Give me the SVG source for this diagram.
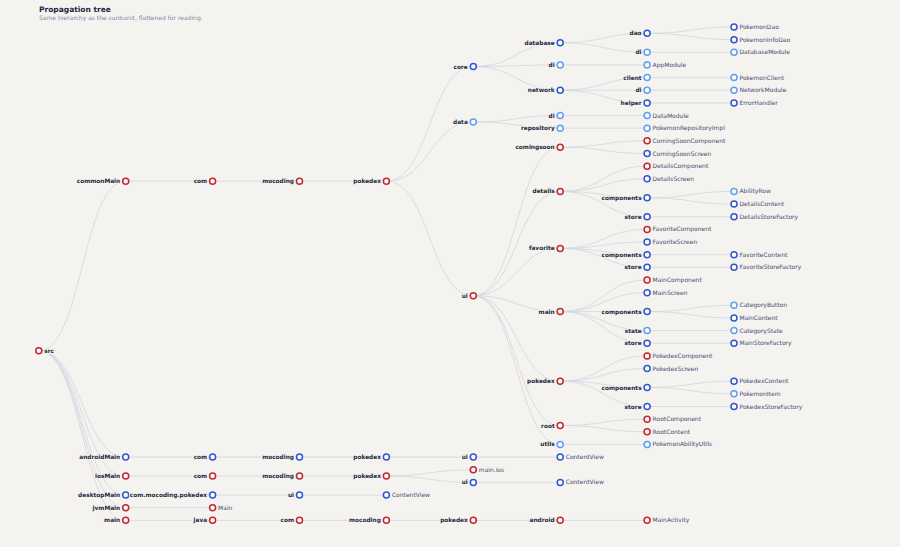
<svg xmlns="http://www.w3.org/2000/svg" width="900" height="547" viewBox="0 0 900 547">
<style>
.bg{fill:#f4f3ef}
.title{font-family:"DejaVu Sans",Verdana,sans-serif;font-size:7.5px;font-weight:bold;fill:#1e2640}
.sub{font-family:"DejaVu Sans",Verdana,sans-serif;font-size:6px;fill:#7d8aa2}
#links path{fill:none;stroke:#cfd6e0;stroke-width:0.8}
.node circle{fill:#ffffff;stroke-width:1.5}
.r circle{stroke:#c4262e}
.b circle{stroke:#2f55d4}
.l circle{stroke:#5d9ff2}
.node text{font-family:"DejaVu Sans",Verdana,sans-serif;font-size:6px;stroke:#f4f3ef;stroke-width:2;paint-order:stroke;stroke-linejoin:round}
.i text{font-weight:bold;font-size:5.8px;fill:#222840;text-anchor:end}
.f text{fill:#464d72}
.rt text{font-weight:bold;font-size:5.8px;fill:#222840}
</style>
<rect class="bg" x="0" y="0" width="900" height="547"/>
<text class="title" x="39" y="11.5">Propagation tree</text>
<text class="sub" x="39" y="19.5">Same hierarchy as the sunburst, flattened for reading.</text>
<g id="links">
<path d="M38.8,350.8C82.25,350.8 82.25,181.2 125.7,181.2"/>
<path d="M38.8,350.8C82.25,350.8 82.25,457.1 125.7,457.1"/>
<path d="M38.8,350.8C82.25,350.8 82.25,476.1 125.7,476.1"/>
<path d="M38.8,350.8C82.25,350.8 82.25,495.05 125.7,495.05"/>
<path d="M38.8,350.8C82.25,350.8 82.25,507.7 125.7,507.7"/>
<path d="M38.8,350.8C82.25,350.8 82.25,520.35 125.7,520.35"/>
<path d="M125.7,181.2H386.4"/>
<path d="M386.4,181.2C429.85,181.2 429.85,66.5 473.3,66.5"/>
<path d="M386.4,181.2C429.85,181.2 429.85,121.9 473.3,121.9"/>
<path d="M386.4,181.2C429.85,181.2 429.85,295.8 473.3,295.8"/>
<path d="M473.3,66.5C516.75,66.5 516.75,42.8 560.2,42.8"/>
<path d="M473.3,66.5C516.75,66.5 516.75,64.95 560.2,64.95"/>
<path d="M473.3,66.5C516.75,66.5 516.75,90.25 560.2,90.25"/>
<path d="M560.2,42.8C603.65,42.8 603.65,33.3 647.1,33.3"/>
<path d="M560.2,42.8C603.65,42.8 603.65,52.3 647.1,52.3"/>
<path d="M647.1,33.3C690.55,33.3 690.55,27 734,27"/>
<path d="M647.1,33.3C690.55,33.3 690.55,39.65 734,39.65"/>
<path d="M647.1,52.3H734"/>
<path d="M560.2,64.95H647.1"/>
<path d="M560.2,90.25C603.65,90.25 603.65,77.6 647.1,77.6"/>
<path d="M560.2,90.25H647.1"/>
<path d="M560.2,90.25C603.65,90.25 603.65,102.9 647.1,102.9"/>
<path d="M647.1,77.6H734"/>
<path d="M647.1,90.25H734"/>
<path d="M647.1,102.9H734"/>
<path d="M473.3,121.9C516.75,121.9 516.75,115.55 560.2,115.55"/>
<path d="M473.3,121.9C516.75,121.9 516.75,128.2 560.2,128.2"/>
<path d="M560.2,115.55H647.1"/>
<path d="M560.2,128.2H647.1"/>
<path d="M473.3,295.8C516.75,295.8 516.75,147.2 560.2,147.2"/>
<path d="M473.3,295.8C516.75,295.8 516.75,191.45 560.2,191.45"/>
<path d="M473.3,295.8C516.75,295.8 516.75,248.4 560.2,248.4"/>
<path d="M473.3,295.8C516.75,295.8 516.75,311.6 560.2,311.6"/>
<path d="M473.3,295.8C516.75,295.8 516.75,381.2 560.2,381.2"/>
<path d="M473.3,295.8C516.75,295.8 516.75,425.5 560.2,425.5"/>
<path d="M473.3,295.8C516.75,295.8 516.75,444.45 560.2,444.45"/>
<path d="M560.2,147.2C603.65,147.2 603.65,140.85 647.1,140.85"/>
<path d="M560.2,147.2C603.65,147.2 603.65,153.5 647.1,153.5"/>
<path d="M560.2,191.45C603.65,191.45 603.65,166.15 647.1,166.15"/>
<path d="M560.2,191.45C603.65,191.45 603.65,178.8 647.1,178.8"/>
<path d="M560.2,191.45C603.65,191.45 603.65,197.8 647.1,197.8"/>
<path d="M560.2,191.45C603.65,191.45 603.65,216.75 647.1,216.75"/>
<path d="M647.1,197.8C690.55,197.8 690.55,191.45 734,191.45"/>
<path d="M647.1,197.8C690.55,197.8 690.55,204.1 734,204.1"/>
<path d="M647.1,216.75H734"/>
<path d="M560.2,248.4C603.65,248.4 603.65,229.4 647.1,229.4"/>
<path d="M560.2,248.4C603.65,248.4 603.65,242.05 647.1,242.05"/>
<path d="M560.2,248.4C603.65,248.4 603.65,254.7 647.1,254.7"/>
<path d="M560.2,248.4C603.65,248.4 603.65,267.35 647.1,267.35"/>
<path d="M647.1,254.7H734"/>
<path d="M647.1,267.35H734"/>
<path d="M560.2,311.6C603.65,311.6 603.65,280 647.1,280"/>
<path d="M560.2,311.6C603.65,311.6 603.65,292.65 647.1,292.65"/>
<path d="M560.2,311.6H647.1"/>
<path d="M560.2,311.6C603.65,311.6 603.65,330.6 647.1,330.6"/>
<path d="M560.2,311.6C603.65,311.6 603.65,343.25 647.1,343.25"/>
<path d="M647.1,311.6C690.55,311.6 690.55,305.3 734,305.3"/>
<path d="M647.1,311.6C690.55,311.6 690.55,317.95 734,317.95"/>
<path d="M647.1,330.6H734"/>
<path d="M647.1,343.25H734"/>
<path d="M560.2,381.2C603.65,381.2 603.65,355.9 647.1,355.9"/>
<path d="M560.2,381.2C603.65,381.2 603.65,368.55 647.1,368.55"/>
<path d="M560.2,381.2C603.65,381.2 603.65,387.5 647.1,387.5"/>
<path d="M560.2,381.2C603.65,381.2 603.65,406.5 647.1,406.5"/>
<path d="M647.1,387.5C690.55,387.5 690.55,381.2 734,381.2"/>
<path d="M647.1,387.5C690.55,387.5 690.55,393.85 734,393.85"/>
<path d="M647.1,406.5H734"/>
<path d="M560.2,425.5C603.65,425.5 603.65,419.15 647.1,419.15"/>
<path d="M560.2,425.5C603.65,425.5 603.65,431.8 647.1,431.8"/>
<path d="M560.2,444.45H647.1"/>
<path d="M125.7,457.1H560.2"/>
<path d="M125.7,476.1H386.4"/>
<path d="M386.4,476.1C429.85,476.1 429.85,469.75 473.3,469.75"/>
<path d="M386.4,476.1C429.85,476.1 429.85,482.4 473.3,482.4"/>
<path d="M473.3,482.4H560.2"/>
<path d="M125.7,495.05H386.4"/>
<path d="M125.7,507.7H212.6"/>
<path d="M125.7,520.35H647.1"/>
</g>
<g id="nodes">
<g id="n-src" class="node r rt"><circle cx="38.8" cy="350.8" r="3"/><text x="44.3" y="352.8">src</text></g>
<g id="n-commonMain" class="node r i"><circle cx="125.7" cy="181.2" r="3"/><text x="120.2" y="183.2">commonMain</text></g>
<g id="n-cm-com" class="node r i"><circle cx="212.6" cy="181.2" r="3"/><text x="207.1" y="183.2">com</text></g>
<g id="n-cm-mocoding" class="node r i"><circle cx="299.5" cy="181.2" r="3"/><text x="294" y="183.2">mocoding</text></g>
<g id="n-cm-pokedex" class="node r i"><circle cx="386.4" cy="181.2" r="3"/><text x="380.9" y="183.2">pokedex</text></g>
<g id="n-core" class="node b i"><circle cx="473.3" cy="66.5" r="3"/><text x="467.8" y="68.5">core</text></g>
<g id="n-data" class="node l i"><circle cx="473.3" cy="121.9" r="3"/><text x="467.8" y="123.9">data</text></g>
<g id="n-ui" class="node r i"><circle cx="473.3" cy="295.8" r="3"/><text x="467.8" y="297.8">ui</text></g>
<g id="n-database" class="node b i"><circle cx="560.2" cy="42.8" r="3"/><text x="554.7" y="44.8">database</text></g>
<g id="n-core-di" class="node l i"><circle cx="560.2" cy="64.95" r="3"/><text x="554.7" y="66.95">di</text></g>
<g id="n-network" class="node b i"><circle cx="560.2" cy="90.25" r="3"/><text x="554.7" y="92.25">network</text></g>
<g id="n-dao" class="node b i"><circle cx="647.1" cy="33.3" r="3"/><text x="641.6" y="35.3">dao</text></g>
<g id="n-db-di" class="node l i"><circle cx="647.1" cy="52.3" r="3"/><text x="641.6" y="54.3">di</text></g>
<g id="n-AppModule" class="node l f"><circle cx="647.1" cy="64.95" r="3"/><text x="652.6" y="66.95">AppModule</text></g>
<g id="n-client" class="node l i"><circle cx="647.1" cy="77.6" r="3"/><text x="641.6" y="79.6">client</text></g>
<g id="n-net-di" class="node l i"><circle cx="647.1" cy="90.25" r="3"/><text x="641.6" y="92.25">di</text></g>
<g id="n-helper" class="node b i"><circle cx="647.1" cy="102.9" r="3"/><text x="641.6" y="104.9">helper</text></g>
<g id="n-PokemonDao" class="node b f"><circle cx="734" cy="27" r="3"/><text x="739.5" y="29">PokemonDao</text></g>
<g id="n-PokemonInfoDao" class="node b f"><circle cx="734" cy="39.65" r="3"/><text x="739.5" y="41.65">PokemonInfoDao</text></g>
<g id="n-DatabaseModule" class="node l f"><circle cx="734" cy="52.3" r="3"/><text x="739.5" y="54.3">DatabaseModule</text></g>
<g id="n-PokemonClient" class="node l f"><circle cx="734" cy="77.6" r="3"/><text x="739.5" y="79.6">PokemonClient</text></g>
<g id="n-NetworkModule" class="node l f"><circle cx="734" cy="90.25" r="3"/><text x="739.5" y="92.25">NetworkModule</text></g>
<g id="n-ErrorHandler" class="node b f"><circle cx="734" cy="102.9" r="3"/><text x="739.5" y="104.9">ErrorHandler</text></g>
<g id="n-data-di" class="node l i"><circle cx="560.2" cy="115.55" r="3"/><text x="554.7" y="117.55">di</text></g>
<g id="n-repository" class="node l i"><circle cx="560.2" cy="128.2" r="3"/><text x="554.7" y="130.2">repository</text></g>
<g id="n-DataModule" class="node l f"><circle cx="647.1" cy="115.55" r="3"/><text x="652.6" y="117.55">DataModule</text></g>
<g id="n-PokemonRepositoryImpl" class="node l f"><circle cx="647.1" cy="128.2" r="3"/><text x="652.6" y="130.2">PokemonRepositoryImpl</text></g>
<g id="n-comingsoon" class="node r i"><circle cx="560.2" cy="147.2" r="3"/><text x="554.7" y="149.2">comingsoon</text></g>
<g id="n-ComingSoonComponent" class="node r f"><circle cx="647.1" cy="140.85" r="3"/><text x="652.6" y="142.85">ComingSoonComponent</text></g>
<g id="n-ComingSoonScreen" class="node b f"><circle cx="647.1" cy="153.5" r="3"/><text x="652.6" y="155.5">ComingSoonScreen</text></g>
<g id="n-details" class="node r i"><circle cx="560.2" cy="191.45" r="3"/><text x="554.7" y="193.45">details</text></g>
<g id="n-DetailsComponent" class="node r f"><circle cx="647.1" cy="166.15" r="3"/><text x="652.6" y="168.15">DetailsComponent</text></g>
<g id="n-DetailsScreen" class="node b f"><circle cx="647.1" cy="178.8" r="3"/><text x="652.6" y="180.8">DetailsScreen</text></g>
<g id="n-details-components" class="node b i"><circle cx="647.1" cy="197.8" r="3"/><text x="641.6" y="199.8">components</text></g>
<g id="n-details-store" class="node b i"><circle cx="647.1" cy="216.75" r="3"/><text x="641.6" y="218.75">store</text></g>
<g id="n-AbilityRow" class="node l f"><circle cx="734" cy="191.45" r="3"/><text x="739.5" y="193.45">AbilityRow</text></g>
<g id="n-DetailsContent" class="node b f"><circle cx="734" cy="204.1" r="3"/><text x="739.5" y="206.1">DetailsContent</text></g>
<g id="n-DetailsStoreFactory" class="node b f"><circle cx="734" cy="216.75" r="3"/><text x="739.5" y="218.75">DetailsStoreFactory</text></g>
<g id="n-favorite" class="node r i"><circle cx="560.2" cy="248.4" r="3"/><text x="554.7" y="250.4">favorite</text></g>
<g id="n-FavoriteComponent" class="node r f"><circle cx="647.1" cy="229.4" r="3"/><text x="652.6" y="231.4">FavoriteComponent</text></g>
<g id="n-FavoriteScreen" class="node b f"><circle cx="647.1" cy="242.05" r="3"/><text x="652.6" y="244.05">FavoriteScreen</text></g>
<g id="n-favorite-components" class="node b i"><circle cx="647.1" cy="254.7" r="3"/><text x="641.6" y="256.7">components</text></g>
<g id="n-favorite-store" class="node b i"><circle cx="647.1" cy="267.35" r="3"/><text x="641.6" y="269.35">store</text></g>
<g id="n-FavoriteContent" class="node b f"><circle cx="734" cy="254.7" r="3"/><text x="739.5" y="256.7">FavoriteContent</text></g>
<g id="n-FavoriteStoreFactory" class="node b f"><circle cx="734" cy="267.35" r="3"/><text x="739.5" y="269.35">FavoriteStoreFactory</text></g>
<g id="n-main-ui" class="node r i"><circle cx="560.2" cy="311.6" r="3"/><text x="554.7" y="313.6">main</text></g>
<g id="n-MainComponent" class="node r f"><circle cx="647.1" cy="280" r="3"/><text x="652.6" y="282">MainComponent</text></g>
<g id="n-MainScreen" class="node b f"><circle cx="647.1" cy="292.65" r="3"/><text x="652.6" y="294.65">MainScreen</text></g>
<g id="n-main-components" class="node b i"><circle cx="647.1" cy="311.6" r="3"/><text x="641.6" y="313.6">components</text></g>
<g id="n-main-state" class="node l i"><circle cx="647.1" cy="330.6" r="3"/><text x="641.6" y="332.6">state</text></g>
<g id="n-main-store" class="node b i"><circle cx="647.1" cy="343.25" r="3"/><text x="641.6" y="345.25">store</text></g>
<g id="n-CategoryButton" class="node l f"><circle cx="734" cy="305.3" r="3"/><text x="739.5" y="307.3">CategoryButton</text></g>
<g id="n-MainContent" class="node b f"><circle cx="734" cy="317.95" r="3"/><text x="739.5" y="319.95">MainContent</text></g>
<g id="n-CategoryState" class="node l f"><circle cx="734" cy="330.6" r="3"/><text x="739.5" y="332.6">CategoryState</text></g>
<g id="n-MainStoreFactory" class="node b f"><circle cx="734" cy="343.25" r="3"/><text x="739.5" y="345.25">MainStoreFactory</text></g>
<g id="n-pokedex-ui" class="node r i"><circle cx="560.2" cy="381.2" r="3"/><text x="554.7" y="383.2">pokedex</text></g>
<g id="n-PokedexComponent" class="node r f"><circle cx="647.1" cy="355.9" r="3"/><text x="652.6" y="357.9">PokedexComponent</text></g>
<g id="n-PokedexScreen" class="node b f"><circle cx="647.1" cy="368.55" r="3"/><text x="652.6" y="370.55">PokedexScreen</text></g>
<g id="n-pokedex-components" class="node b i"><circle cx="647.1" cy="387.5" r="3"/><text x="641.6" y="389.5">components</text></g>
<g id="n-pokedex-store" class="node b i"><circle cx="647.1" cy="406.5" r="3"/><text x="641.6" y="408.5">store</text></g>
<g id="n-PokedexContent" class="node b f"><circle cx="734" cy="381.2" r="3"/><text x="739.5" y="383.2">PokedexContent</text></g>
<g id="n-PokemonItem" class="node l f"><circle cx="734" cy="393.85" r="3"/><text x="739.5" y="395.85">PokemonItem</text></g>
<g id="n-PokedexStoreFactory" class="node b f"><circle cx="734" cy="406.5" r="3"/><text x="739.5" y="408.5">PokedexStoreFactory</text></g>
<g id="n-root" class="node r i"><circle cx="560.2" cy="425.5" r="3"/><text x="554.7" y="427.5">root</text></g>
<g id="n-RootComponent" class="node r f"><circle cx="647.1" cy="419.15" r="3"/><text x="652.6" y="421.15">RootComponent</text></g>
<g id="n-RootContent" class="node r f"><circle cx="647.1" cy="431.8" r="3"/><text x="652.6" y="433.8">RootContent</text></g>
<g id="n-utils" class="node l i"><circle cx="560.2" cy="444.45" r="3"/><text x="554.7" y="446.45">utils</text></g>
<g id="n-PokemonAbilityUtils" class="node l f"><circle cx="647.1" cy="444.45" r="3"/><text x="652.6" y="446.45">PokemonAbilityUtils</text></g>
<g id="n-androidMain" class="node b i"><circle cx="125.7" cy="457.1" r="3"/><text x="120.2" y="459.1">androidMain</text></g>
<g id="n-am-com" class="node b i"><circle cx="212.6" cy="457.1" r="3"/><text x="207.1" y="459.1">com</text></g>
<g id="n-am-mocoding" class="node b i"><circle cx="299.5" cy="457.1" r="3"/><text x="294" y="459.1">mocoding</text></g>
<g id="n-am-pokedex" class="node b i"><circle cx="386.4" cy="457.1" r="3"/><text x="380.9" y="459.1">pokedex</text></g>
<g id="n-am-ui" class="node b i"><circle cx="473.3" cy="457.1" r="3"/><text x="467.8" y="459.1">ui</text></g>
<g id="n-am-ContentView" class="node b f"><circle cx="560.2" cy="457.1" r="3"/><text x="565.7" y="459.1">ContentView</text></g>
<g id="n-iosMain" class="node r i"><circle cx="125.7" cy="476.1" r="3"/><text x="120.2" y="478.1">iosMain</text></g>
<g id="n-ios-com" class="node r i"><circle cx="212.6" cy="476.1" r="3"/><text x="207.1" y="478.1">com</text></g>
<g id="n-ios-mocoding" class="node r i"><circle cx="299.5" cy="476.1" r="3"/><text x="294" y="478.1">mocoding</text></g>
<g id="n-ios-pokedex" class="node r i"><circle cx="386.4" cy="476.1" r="3"/><text x="380.9" y="478.1">pokedex</text></g>
<g id="n-main-ios" class="node r f"><circle cx="473.3" cy="469.75" r="3"/><text x="478.8" y="471.75">main.ios</text></g>
<g id="n-ios-ui" class="node b i"><circle cx="473.3" cy="482.4" r="3"/><text x="467.8" y="484.4">ui</text></g>
<g id="n-ios-ContentView" class="node b f"><circle cx="560.2" cy="482.4" r="3"/><text x="565.7" y="484.4">ContentView</text></g>
<g id="n-desktopMain" class="node b i"><circle cx="125.7" cy="495.05" r="3"/><text x="120.2" y="497.05">desktopMain</text></g>
<g id="n-dm-pkg" class="node b i"><circle cx="212.6" cy="495.05" r="3"/><text x="207.1" y="497.05">com.mocoding.pokedex</text></g>
<g id="n-dm-ui" class="node b i"><circle cx="299.5" cy="495.05" r="3"/><text x="294" y="497.05">ui</text></g>
<g id="n-dm-ContentView" class="node b f"><circle cx="386.4" cy="495.05" r="3"/><text x="391.9" y="497.05">ContentView</text></g>
<g id="n-jvmMain" class="node r i"><circle cx="125.7" cy="507.7" r="3"/><text x="120.2" y="509.7">jvmMain</text></g>
<g id="n-Main" class="node r f"><circle cx="212.6" cy="507.7" r="3"/><text x="218.1" y="509.7">Main</text></g>
<g id="n-main" class="node r i"><circle cx="125.7" cy="520.35" r="3"/><text x="120.2" y="522.35">main</text></g>
<g id="n-java" class="node r i"><circle cx="212.6" cy="520.35" r="3"/><text x="207.1" y="522.35">java</text></g>
<g id="n-m-com" class="node r i"><circle cx="299.5" cy="520.35" r="3"/><text x="294" y="522.35">com</text></g>
<g id="n-m-mocoding" class="node r i"><circle cx="386.4" cy="520.35" r="3"/><text x="380.9" y="522.35">mocoding</text></g>
<g id="n-m-pokedex" class="node r i"><circle cx="473.3" cy="520.35" r="3"/><text x="467.8" y="522.35">pokedex</text></g>
<g id="n-android" class="node r i"><circle cx="560.2" cy="520.35" r="3"/><text x="554.7" y="522.35">android</text></g>
<g id="n-MainActivity" class="node r f"><circle cx="647.1" cy="520.35" r="3"/><text x="652.6" y="522.35">MainActivity</text></g>
</g>
</svg>
